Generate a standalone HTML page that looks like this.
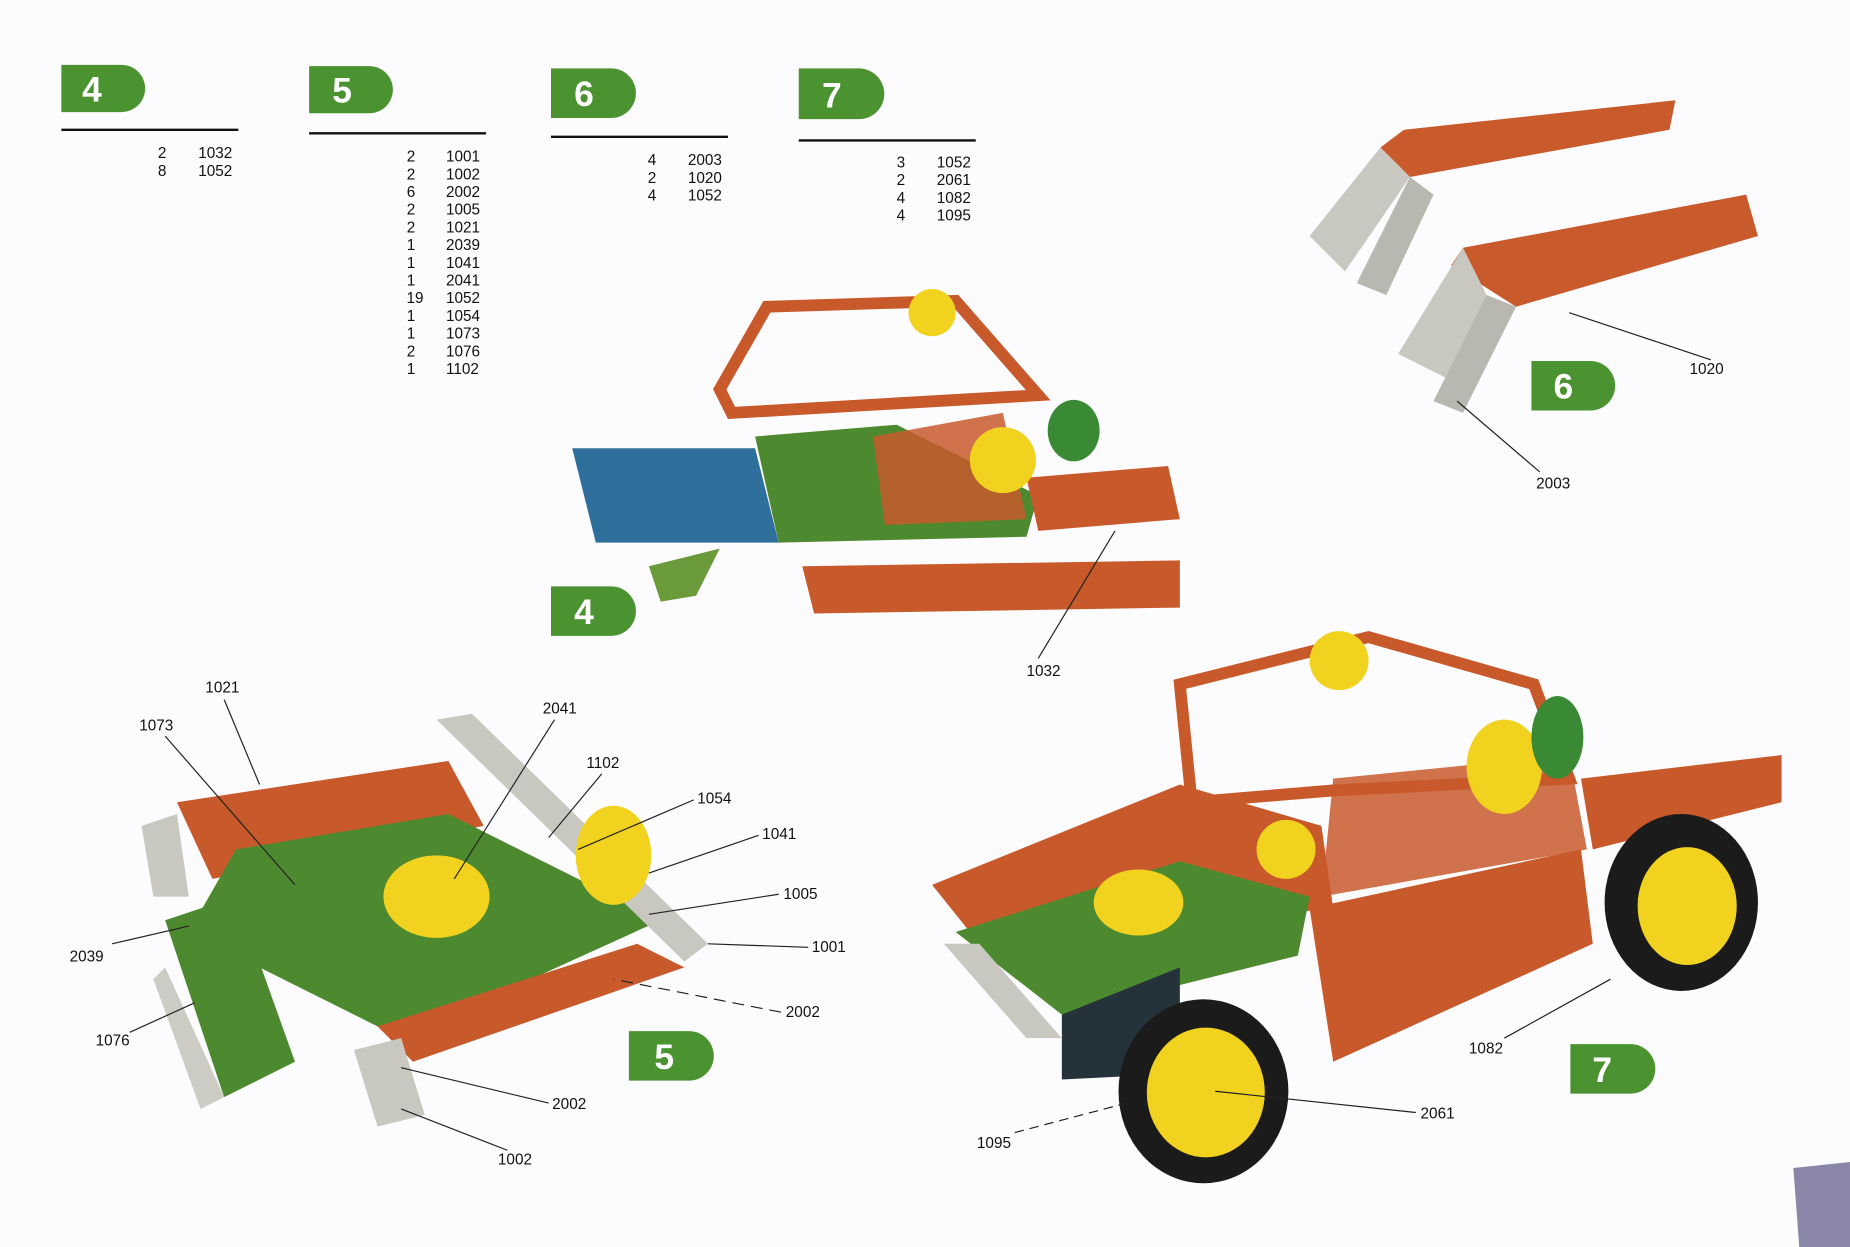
<!DOCTYPE html>
<html><head><meta charset="utf-8"><style>
html,body{margin:0;padding:0;background:#fcfbfd;}
svg{display:block}
text{font-family:"Liberation Sans",sans-serif;fill:#111}
.n text,.l text{font-size:13px}
.b text{font-size:30px;font-weight:bold;fill:#fff}
</style></head><body>
<svg width="1850" height="1247" viewBox="0 0 1568 1057" preserveAspectRatio="none" xmlns="http://www.w3.org/2000/svg">
<rect width="1568" height="1057" fill="#fcfbfd"/>
<g fill="#4b9331">
<path d="M52,55 H103 A20,20 0 0 1 103,95 H52Z"/>
<path d="M262,56 H313 A20,20 0 0 1 313,96 H262Z"/>
<path d="M467,58 H518 A21,21 0 0 1 518,100 H467Z"/>
<path d="M677,58 H728 A21,21 0 0 1 728,101 H677Z"/>
<path d="M467,497 H518 A21,21 0 0 1 518,539 H467Z"/>
<path d="M533,874 H584 A21,21 0 0 1 584,916 H533Z"/>
<path d="M1298,306 H1348 A21,21 0 0 1 1348,348 H1298Z"/>
<path d="M1331,885 H1382 A21,21 0 0 1 1382,927 H1331Z"/>
</g>
<g class="b" text-anchor="middle">
<text x="78" y="86">4</text><text x="290" y="87">5</text><text x="495" y="90">6</text><text x="705" y="91">7</text>
<text x="495" y="529">4</text><text x="563" y="906">5</text><text x="1325" y="338">6</text><text x="1358" y="917">7</text>
</g>
<g stroke="#111" stroke-width="2">
<line x1="52" y1="110" x2="202" y2="110"/><line x1="262" y1="113" x2="412" y2="113"/>
<line x1="467" y1="116" x2="617" y2="116"/><line x1="677" y1="119" x2="827" y2="119"/>
</g>
<g class="n">
<text x="141" y="134" text-anchor="end">2</text><text x="168" y="134">1032</text>
<text x="141" y="149" text-anchor="end">8</text><text x="168" y="149">1052</text>
</g>
<g class="n" text-anchor="end">
<text x="352" y="137">2</text><text x="352" y="152">2</text><text x="352" y="167">6</text><text x="352" y="182">2</text><text x="352" y="197">2</text><text x="352" y="212">1</text><text x="352" y="227">1</text><text x="352" y="242">1</text><text x="359" y="257">19</text><text x="352" y="272">1</text><text x="352" y="287">1</text><text x="352" y="302">2</text><text x="352" y="317">1</text>
</g>
<g class="n">
<text x="378" y="137">1001</text><text x="378" y="152">1002</text><text x="378" y="167">2002</text><text x="378" y="182">1005</text><text x="378" y="197">1021</text><text x="378" y="212">2039</text><text x="378" y="227">1041</text><text x="378" y="242">2041</text><text x="378" y="257">1052</text><text x="378" y="272">1054</text><text x="378" y="287">1073</text><text x="378" y="302">1076</text><text x="378" y="317">1102</text>
<text x="549" y="140">4</text><text x="583" y="140">2003</text>
<text x="549" y="155">2</text><text x="583" y="155">1020</text>
<text x="549" y="170">4</text><text x="583" y="170">1052</text>
<text x="760" y="142">3</text><text x="794" y="142">1052</text>
<text x="760" y="157">2</text><text x="794" y="157">2061</text>
<text x="760" y="172">4</text><text x="794" y="172">1082</text>
<text x="760" y="187">4</text><text x="794" y="187">1095</text>
</g>
<!-- model 6 parts -->
<g>
<polygon points="1170,125 1190,110 1420,85 1415,110 1195,150" fill="#c85a2c"/>
<polygon points="1110,200 1170,125 1195,150 1140,230" fill="#c8c8c0"/>
<polygon points="1150,240 1195,150 1215,165 1175,250" fill="#b8b8b0"/>
<polygon points="1230,225 1240,210 1480,165 1490,200 1285,260" fill="#c85a2c"/>
<polygon points="1185,300 1240,210 1260,250 1225,320" fill="#c8c8c0"/>
<polygon points="1215,340 1260,250 1285,260 1240,350" fill="#b8b8b0"/>
</g>
<g class="l"><text x="1432" y="317">1020</text><text x="1302" y="414">2003</text></g>
<g stroke="#222" stroke-width="1"><line x1="1330" y1="265" x2="1450" y2="305"/><line x1="1235" y1="340" x2="1305" y2="400"/></g>
<!-- model 4 -->
<g>
<polygon points="485,380 640,380 660,460 505,460" fill="#2f6f9c"/>
<polygon points="640,370 760,360 880,420 870,455 660,460" fill="#4d8a2f"/>
<polygon points="680,480 1000,475 1000,515 690,520" fill="#c8592b"/>
<polygon points="610,330 650,260 810,255 880,335 620,350" fill="none" stroke="#c8592b" stroke-width="10"/>
<polygon points="740,370 850,350 870,440 750,445" fill="#c8592b" opacity=".85"/>
<polygon points="870,405 990,395 1000,440 880,450" fill="#c8592b"/>
<circle cx="790" cy="265" r="20" fill="#f1d21e"/>
<circle cx="850" cy="390" r="28" fill="#f1d21e"/>
<ellipse cx="910" cy="365" rx="22" ry="26" fill="#3a8a35"/>
<polygon points="550,480 610,465 590,505 560,510" fill="#6a9a3a"/>
</g>
<g class="l"><text x="870" y="573">1032</text></g>
<line x1="880" y1="558" x2="945" y2="450" stroke="#222"/>
<!-- model 5 -->
<g>
<polygon points="150,680 380,645 410,700 180,745" fill="#c8592b"/>
<polygon points="200,720 380,690 560,780 340,880 160,790" fill="#4d8a2f"/>
<polygon points="320,870 540,800 580,820 350,900" fill="#c8592b"/>
<polygon points="140,780 200,760 250,900 190,930" fill="#4d8a2f"/>
<polygon points="140,820 190,930 170,940 130,830" fill="#ccccc4"/>
<polygon points="370,610 400,605 600,800 580,815" fill="#c8c8c0"/>
<polygon points="120,700 150,690 160,760 130,760" fill="#c8c8c0"/>
<polygon points="300,890 340,880 360,945 320,955" fill="#c8c8c0"/>
<ellipse cx="370" cy="760" rx="45" ry="35" fill="#f1d21e"/>
<ellipse cx="520" cy="725" rx="32" ry="42" fill="#f1d21e"/>
</g>
<g class="l">
<text x="174" y="587">1021</text><text x="118" y="619">1073</text><text x="460" y="605">2041</text><text x="497" y="651">1102</text><text x="591" y="681">1054</text><text x="646" y="711">1041</text><text x="664" y="762">1005</text><text x="688" y="807">1001</text><text x="666" y="862">2002</text><text x="59" y="815">2039</text><text x="81" y="886">1076</text><text x="468" y="940">2002</text><text x="422" y="987">1002</text>
</g>
<g stroke="#222" stroke-width="1" fill="none">
<line x1="190" y1="593" x2="220" y2="665"/><line x1="140" y1="624" x2="250" y2="750"/><line x1="470" y1="610" x2="385" y2="745"/><line x1="510" y1="656" x2="465" y2="710"/><line x1="588" y1="678" x2="490" y2="720"/><line x1="643" y1="708" x2="550" y2="740"/><line x1="660" y1="758" x2="550" y2="775"/><line x1="685" y1="803" x2="600" y2="800"/><line x1="662" y1="858" x2="520" y2="830" stroke-dasharray="10,6"/><line x1="95" y1="800" x2="160" y2="785"/><line x1="110" y1="875" x2="165" y2="850"/><line x1="465" y1="935" x2="340" y2="905"/><line x1="430" y1="975" x2="340" y2="940"/>
</g>
<!-- model 7 -->
<g>
<polygon points="790,750 1000,665 1120,700 1130,770 830,800" fill="#c8592b"/>
<polygon points="810,790 1000,730 1110,760 1100,810 900,860" fill="#4d8a2f"/>
<polygon points="1110,770 1340,720 1350,800 1130,900" fill="#c8592b"/>
<polygon points="1340,660 1510,640 1510,680 1350,720" fill="#c8592b"/>
<polygon points="1000,580 1160,540 1300,580 1330,660 1130,670 1010,680" fill="none" stroke="#c8592b" stroke-width="10"/>
<polygon points="1130,660 1330,640 1345,720 1120,760" fill="#c8592b" opacity=".85"/>
<polygon points="900,860 1000,820 1000,910 900,915" fill="#24323a"/>
<polygon points="800,800 830,800 900,880 870,880" fill="#c8c8c0"/>
<circle cx="1135" cy="560" r="25" fill="#f1d21e"/>
<circle cx="1090" cy="720" r="25" fill="#f1d21e"/>
<ellipse cx="965" cy="765" rx="38" ry="28" fill="#f1d21e"/>
<ellipse cx="1275" cy="650" rx="32" ry="40" fill="#f1d21e"/>
<ellipse cx="1320" cy="625" rx="22" ry="35" fill="#3a8a35"/>
<ellipse cx="1425" cy="765" rx="65" ry="75" fill="#1b1b1b"/>
<ellipse cx="1430" cy="768" rx="42" ry="50" fill="#f1d21e"/>
<ellipse cx="1020" cy="925" rx="72" ry="78" fill="#1b1b1b"/>
<ellipse cx="1022" cy="926" rx="50" ry="55" fill="#f1d21e"/>
</g>
<g class="l"><text x="1245" y="893">1082</text><text x="1204" y="948">2061</text><text x="828" y="973">1095</text></g>
<g stroke="#222" stroke-width="1"><line x1="1275" y1="880" x2="1365" y2="830"/><line x1="1200" y1="943" x2="1030" y2="925"/><line x1="860" y1="960" x2="955" y2="935" stroke-dasharray="8,5"/></g>
<polygon points="1520,990 1568,985 1568,1057 1525,1057" fill="#8a86a8"/>
</svg>
</body></html>
